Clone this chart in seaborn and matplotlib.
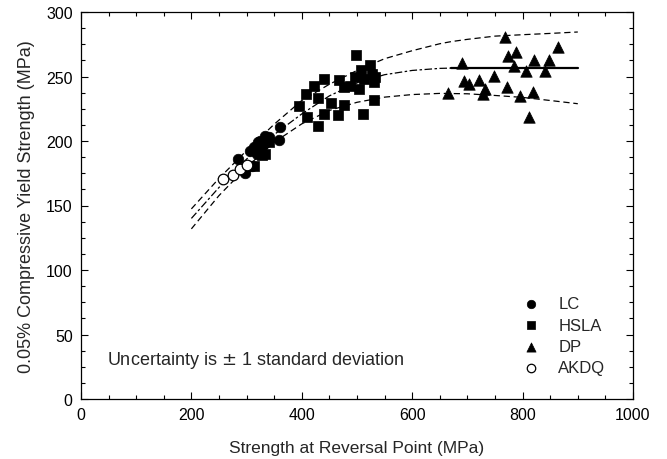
import numpy as np
import pandas as pd
import matplotlib
matplotlib.use("Agg")
import matplotlib.pyplot as plt
import seaborn as sns
from matplotlib.ticker import MultipleLocator

# ---- data ----
lc_x = [360, 359, 333, 320, 307, 313, 327, 285, 297, 310, 340, 325, 318]
lc_y = [211, 201, 204, 199, 192.6, 195, 196.5, 185.7, 175, 181, 203, 200, 190]

hsla_x = [499, 523, 507, 527, 533, 513, 497, 440, 467, 423, 408, 477, 487, 503, 530,
          430, 395, 452, 477, 409, 440, 465, 510, 530, 429, 333, 313, 327, 340, 320]
hsla_y = [266.9, 258.6, 254.7, 252, 249.5, 248, 250, 248, 247, 243, 236.6, 241.8, 243, 240.5, 246,
          233.5, 227, 229.4, 227.6, 218.5, 221, 220, 220.6, 231.4, 211.3, 190, 181, 188.8, 199, 193]

dp_x = [768, 865, 773, 788, 691, 820, 847, 785, 807, 841, 749, 721, 693, 703, 772,
        732, 729, 664, 819, 795, 812]
dp_y = [280.4, 272.6, 266, 269, 260.5, 263, 263, 258, 254, 254, 250.6, 247.5, 246.8, 244, 241.6,
        240, 236.4, 237, 237.7, 235, 218.3]

akdq_x = [257, 275, 288, 301]
akdq_y = [170.7, 174, 178.4, 181.5]

# fitted curve and +/- 1 standard deviation bands
curve_x = [200, 250, 300, 350, 400, 450, 500, 550, 600, 650, 670, 700, 750, 800, 850, 900]
center_y = [140, 164, 186, 205, 221, 235, 245, 251.4, 254.7, 256.3, 256.5, 256.5, 256.5, 256.5, 256.5, 256.5]
upper_y = [147.4, 171, 192.6, 213, 231.4, 244, 254.7, 263.8, 270, 275.4, 277, 278.8, 281.3, 282.4, 283.4, 284.5]
lower_y = [131.9, 157.7, 179.7, 199, 213.3, 223.7, 230, 234, 236, 236.9, 236.8, 236.6, 235.3, 233.8, 231.4, 228.9]

x_ticks = [0, 200, 400, 600, 800, 1000]
y_ticks = [0, 50, 100, 150, 200, 250, 300]

# ---- plotting ----
sns.set_style("ticks")
plt.rcParams["font.family"] = ["Liberation Sans", "DejaVu Sans"]

fig = plt.figure(figsize=(6.67, 4.60), dpi=100)
ax = fig.add_axes([81 / 667, 60 / 460, 552 / 667, 387 / 460])

curves = pd.DataFrame({"x": curve_x, "c": center_y, "u": upper_y, "l": lower_y})
sns.lineplot(data=curves, x="x", y="u", ax=ax, color="black", lw=0.9, dashes=(5, 3), estimator=None, sort=False)
sns.lineplot(data=curves, x="x", y="l", ax=ax, color="black", lw=0.9, dashes=(5, 3), estimator=None, sort=False)
left = curves[curves["x"] <= 670]
right = curves[curves["x"] >= 670]
sns.lineplot(data=left, x="x", y="c", ax=ax, color="black", lw=0.9, dashes=(6, 2, 2, 2), estimator=None, sort=False)
sns.lineplot(data=right, x="x", y="c", ax=ax, color="black", lw=1.6, estimator=None, sort=False)

sns.scatterplot(x=hsla_x, y=hsla_y, ax=ax, marker="s", s=55, color="black", edgecolor="black", linewidth=0.5, label="HSLA", zorder=3)
sns.scatterplot(x=lc_x, y=lc_y, ax=ax, marker="o", s=58, color="black", edgecolor="black", linewidth=0.5, label="LC", zorder=3)
sns.scatterplot(x=dp_x, y=dp_y, ax=ax, marker="^", s=68, color="black", edgecolor="black", linewidth=0.5, label="DP", zorder=3)
sns.scatterplot(x=akdq_x, y=akdq_y, ax=ax, marker="o", s=58, color="white", edgecolor="black", linewidth=0.9, label="AKDQ", zorder=4)

handles, labels = ax.get_legend_handles_labels()
order = ["LC", "HSLA", "DP", "AKDQ"]
hmap = dict(zip(labels, handles))
ax.legend([hmap[k] for k in order], order, loc="upper left", bbox_to_anchor=(0.798, 0.265),
          frameon=False, fontsize=12, handletextpad=1.0, labelspacing=0.38, borderaxespad=0,
          borderpad=0, markerscale=0.8, handlelength=1.2)

ax.set_xlim(0, 1000)
ax.set_ylim(0, 300)
ax.set_xticks(x_ticks)
ax.set_yticks(y_ticks)
ax.xaxis.set_minor_locator(MultipleLocator(50))
ax.yaxis.set_minor_locator(MultipleLocator(12.5))
ax.tick_params(which="both", direction="in", top=True, right=True, labelsize=11.5, colors="black")
ax.tick_params(which="major", length=5, width=0.8, pad=6)
ax.tick_params(which="minor", length=3, width=0.8)
for sp in ax.spines.values():
    sp.set_linewidth(0.9)
    sp.set_color("black")

ax.set_xlabel("Strength at Reversal Point (MPa)", fontsize=12.5, labelpad=13)
ax.set_ylabel("0.05% Compressive Yield Strength (MPa)", fontsize=13, labelpad=8)

ax.text(48, 31, "Uncertainty is $\\pm$ 1 standard deviation", fontsize=13, va="center", ha="left")

fig.savefig("out.png", dpi=100)
